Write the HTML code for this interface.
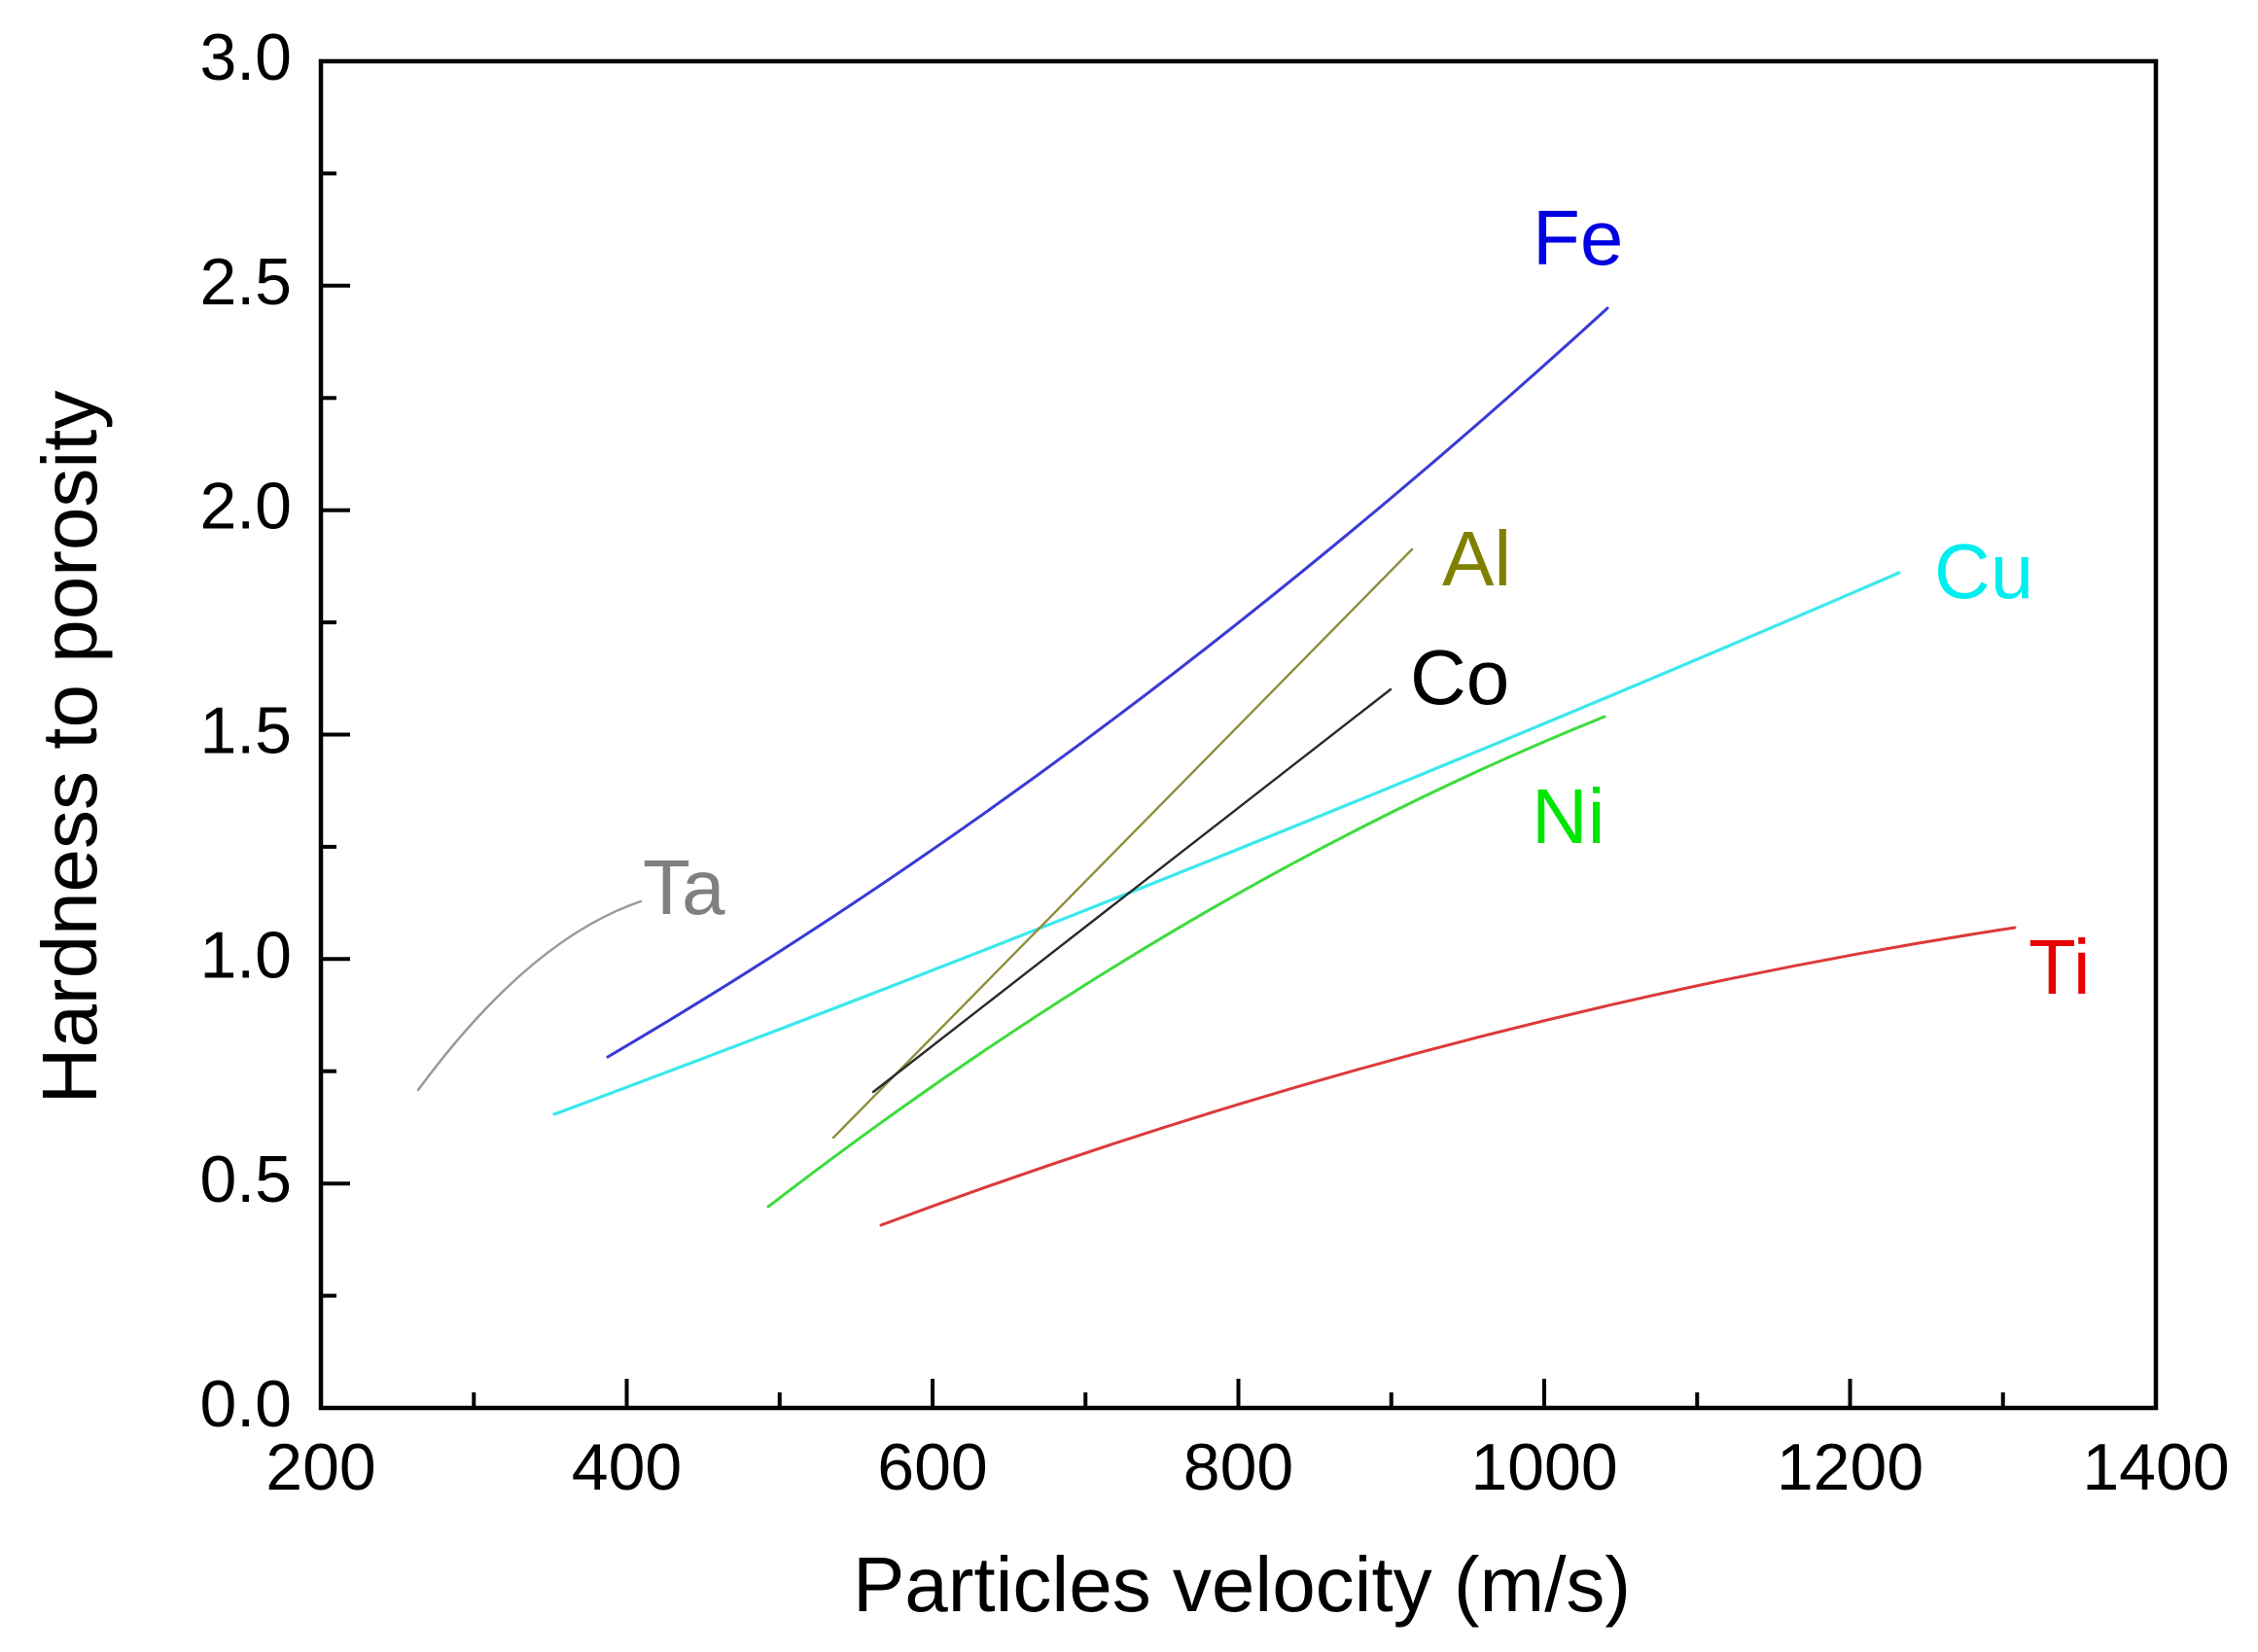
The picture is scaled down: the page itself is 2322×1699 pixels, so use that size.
<!DOCTYPE html>
<html>
<head>
<meta charset="utf-8">
<style>
  html, body { margin: 0; padding: 0; background: #ffffff; }
  body { width: 2322px; height: 1699px; overflow: hidden; }
  svg { display: block; }
  text { font-family: "Liberation Sans", Arial, sans-serif; }
</style>
</head>
<body>
<svg width="2322" height="1699" viewBox="0 0 2322 1699" xmlns="http://www.w3.org/2000/svg">
  <rect x="0" y="0" width="2322" height="1699" fill="#ffffff"/>

  <!-- Curves -->
  <g fill="none" stroke-linecap="round">
    <!-- Ta -->
    <path d="M430,1121 Q544.5,965.6 659,927" stroke="#9a9a9a" stroke-width="2.5"/>
    <!-- Fe -->
    <path d="M625,1087 Q1139,786.1 1653,317" stroke="#3a3ad6" stroke-width="3"/>
    <!-- Cu -->
    <path d="M570,1146 Q1261.5,888.6 1953,589" stroke="#3ae8ec" stroke-width="3.2"/>
    <!-- Al -->
    <path d="M857,1170 L1452,565" stroke="#8e8e3a" stroke-width="2.4"/>
    <!-- Co -->
    <path d="M898,1123 L1430,709" stroke="#2a2a2a" stroke-width="2.4"/>
    <!-- Ni -->
    <path d="M790,1241 Q1220,910.2 1650,737" stroke="#3cdc3c" stroke-width="3"/>
    <!-- Ti -->
    <path d="M906,1260 Q1489,1042.6 2072,954" stroke="#dc3a3a" stroke-width="3"/>
  </g>

  <!-- Series labels -->
  <g font-size="80">
    <text x="1576" y="272" fill="#0000e0">Fe</text>
    <text x="1483" y="602" fill="#808000">Al</text>
    <text x="1450" y="724" fill="#000000">Co</text>
    <text x="1989" y="615" fill="#00eeee">Cu</text>
    <text x="1575" y="867" fill="#00e600">Ni</text>
    <text x="661" y="940" fill="#808080">Ta</text>
    <text x="2086" y="1022" fill="#e60000">Ti</text>
  </g>

  <!-- Axes frame -->
  <rect x="330" y="63" width="1887" height="1385" fill="none" stroke="#000" stroke-width="4.5"/>

  <!-- X ticks -->
  <g stroke="#000" stroke-width="4">
    <line x1="487.25" y1="1448" x2="487.25" y2="1432"/>
    <line x1="644.5" y1="1448" x2="644.5" y2="1418"/>
    <line x1="801.75" y1="1448" x2="801.75" y2="1432"/>
    <line x1="959" y1="1448" x2="959" y2="1418"/>
    <line x1="1116.25" y1="1448" x2="1116.25" y2="1432"/>
    <line x1="1273.5" y1="1448" x2="1273.5" y2="1418"/>
    <line x1="1430.75" y1="1448" x2="1430.75" y2="1432"/>
    <line x1="1588" y1="1448" x2="1588" y2="1418"/>
    <line x1="1745.25" y1="1448" x2="1745.25" y2="1432"/>
    <line x1="1902.5" y1="1448" x2="1902.5" y2="1418"/>
    <line x1="2059.75" y1="1448" x2="2059.75" y2="1432"/>
  </g>

  <!-- Y ticks -->
  <g stroke="#000" stroke-width="4">
    <line x1="330" y1="1332.6" x2="346" y2="1332.6"/>
    <line x1="330" y1="1217.2" x2="360" y2="1217.2"/>
    <line x1="330" y1="1101.7" x2="346" y2="1101.7"/>
    <line x1="330" y1="986.3" x2="360" y2="986.3"/>
    <line x1="330" y1="870.9" x2="346" y2="870.9"/>
    <line x1="330" y1="755.5" x2="360" y2="755.5"/>
    <line x1="330" y1="640.1" x2="346" y2="640.1"/>
    <line x1="330" y1="524.7" x2="360" y2="524.7"/>
    <line x1="330" y1="409.3" x2="346" y2="409.3"/>
    <line x1="330" y1="293.8" x2="360" y2="293.8"/>
    <line x1="330" y1="178.4" x2="346" y2="178.4"/>
  </g>

  <!-- X tick labels -->
  <g font-size="68" fill="#000" text-anchor="middle">
    <text x="330" y="1532">200</text>
    <text x="644.5" y="1532">400</text>
    <text x="959" y="1532">600</text>
    <text x="1273.5" y="1532">800</text>
    <text x="1588" y="1532">1000</text>
    <text x="1902.5" y="1532">1200</text>
    <text x="2217" y="1532">1400</text>
  </g>

  <!-- Y tick labels -->
  <g font-size="68" fill="#000" text-anchor="end">
    <text x="300" y="1467">0.0</text>
    <text x="300" y="1236.2">0.5</text>
    <text x="300" y="1005.3">1.0</text>
    <text x="300" y="774.5">1.5</text>
    <text x="300" y="543.7">2.0</text>
    <text x="300" y="312.8">2.5</text>
    <text x="300" y="82">3.0</text>
  </g>

  <!-- Axis titles -->
  <text x="1277" y="1657" font-size="80" fill="#000" text-anchor="middle">Particles velocity (m/s)</text>
  <text x="0" y="0" font-size="80" fill="#000" text-anchor="middle" transform="translate(99,768.5) rotate(-90)">Hardness to porosity</text>
</svg>
</body>
</html>
